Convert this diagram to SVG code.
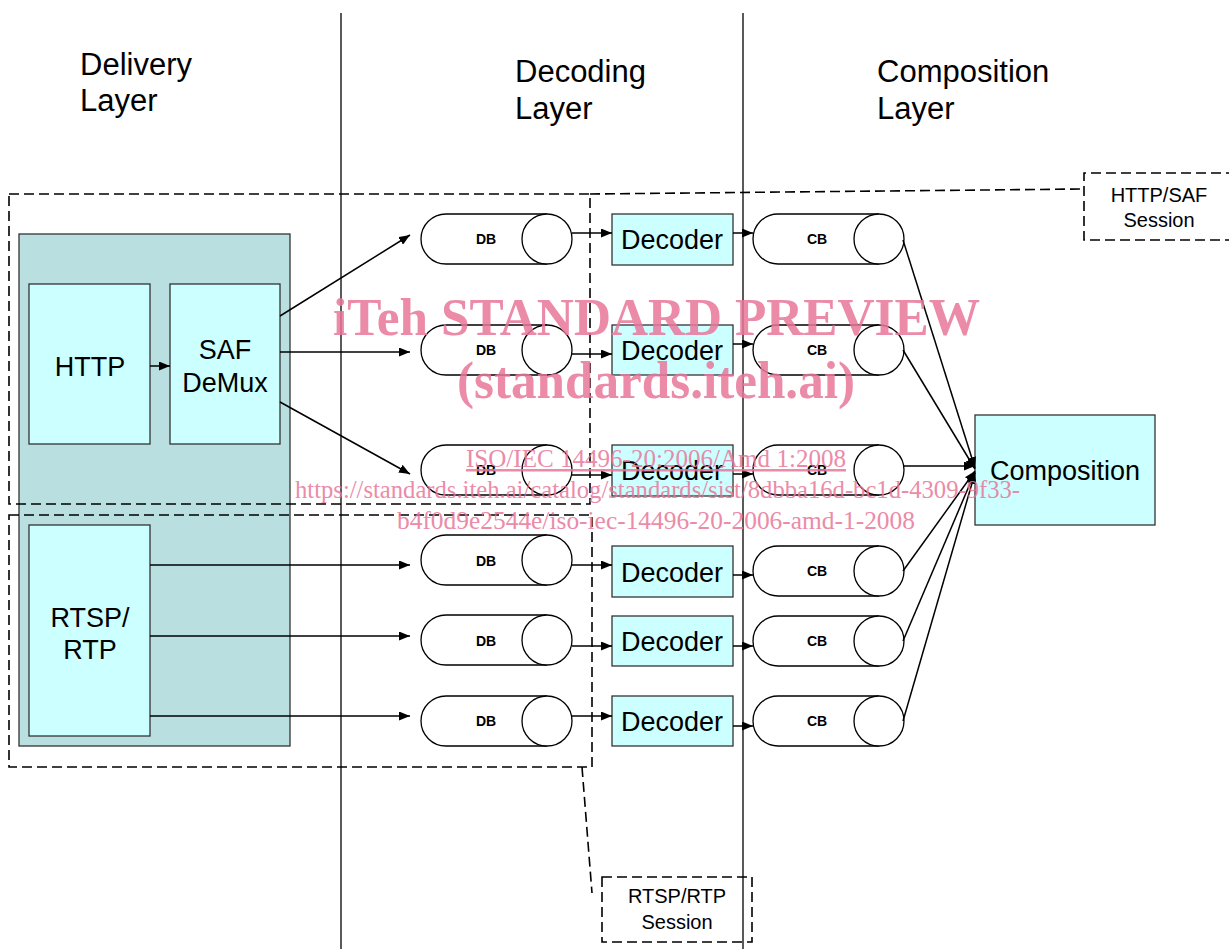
<svg xmlns="http://www.w3.org/2000/svg" xmlns:xlink="http://www.w3.org/1999/xlink" width="1229" height="949" viewBox="0 0 1229 949">
<style>
  .hdr { font-family: "Liberation Sans", Arial, sans-serif; font-size: 31px; fill: #000; }
  .lbl { font-family: "Liberation Sans", Arial, sans-serif; font-size: 27px; fill: #000; text-anchor: middle; }
  .sm { font-family: "Liberation Sans", Arial, sans-serif; font-size: 14px; font-weight: bold; fill: #000; text-anchor: middle; }
  .sess { font-family: "Liberation Sans", Arial, sans-serif; font-size: 20px; fill: #000; text-anchor: middle; }
  .box { fill: #ccffff; stroke: #333; stroke-width: 1.3; }
  .outer { fill: #badfe1; stroke: #333; stroke-width: 1.3; }
  .dash { fill: none; stroke: #000; stroke-width: 1.6; stroke-dasharray: 10 5; }
  .layer { stroke: #000; stroke-width: 1.3; fill: none; }
  .conn line, .conn path { stroke: #000; stroke-width: 1.5; fill: none; }
  .wm { font-family: "Liberation Serif", "Times New Roman", serif; fill: #e8779a; opacity: 0.85; }
</style>
<defs>
  <marker id="ah" markerWidth="11" markerHeight="9" refX="11" refY="4.5" orient="auto" markerUnits="userSpaceOnUse">
    <path d="M0,0 L11,4.5 L0,9 z" fill="#000"/>
  </marker>
  <g id="cyl">
    <path d="M126,0 H25 A25,25 0 0 0 25,50 H126" fill="#fff" stroke="#000" stroke-width="1.3"/>
    <ellipse cx="126" cy="25" rx="25" ry="25" fill="#fff" stroke="#000" stroke-width="1.3"/>
  </g>
</defs>
<rect width="1229" height="949" fill="#fff"/>

<!-- layer separators -->
<g id="layers">
  <line class="layer" x1="341" y1="13" x2="341" y2="949"/>
  <line class="layer" x1="743" y1="13" x2="743" y2="949"/>
  <text class="hdr" x="80" y="75">Delivery</text>
  <text class="hdr" x="80" y="111">Layer</text>
  <text class="hdr" x="515" y="82">Decoding</text>
  <text class="hdr" x="515" y="119">Layer</text>
  <text class="hdr" x="877" y="82">Composition</text>
  <text class="hdr" x="877" y="119">Layer</text>
</g>

<!-- delivery blocks -->
<g id="delivery">
  <rect class="outer" x="19" y="234" width="271" height="512"/>
</g>
<g id="http"><rect class="box" x="29" y="284" width="121" height="160"/><text class="lbl" x="90" y="376">HTTP</text></g>
<g id="safdemux"><rect class="box" x="170" y="284" width="110" height="160"/><text class="lbl" x="225" y="359">SAF</text><text class="lbl" x="225" y="392">DeMux</text></g>
<g id="rtsp"><rect class="box" x="29" y="525" width="121" height="211"/><text class="lbl" x="90" y="627">RTSP/</text><text class="lbl" x="90" y="659">RTP</text></g>

<!-- sessions -->
<g id="http-saf-session">
  <path class="dash" d="M9,194 H590 V504 H9 Z"/>
  <path class="dash" d="M590,194 L1082,189"/>
  <path class="dash" d="M1235,240 H1084 V173 H1235"/>
  <text class="sess" x="1159" y="202">HTTP/SAF</text>
  <text class="sess" x="1159" y="227">Session</text>
</g>
<g id="rtsp-rtp-session">
  <path class="dash" d="M9,515 H592 V767 H9 Z"/>
  <path class="dash" d="M582,767 L592,893"/>
  <rect class="dash" x="602" y="877" width="150" height="65"/>
  <text class="sess" x="677" y="903">RTSP/RTP</text>
  <text class="sess" x="677" y="929">Session</text>
</g>

<!-- DB nodes -->
<g id="db1" transform="translate(421,214)"><use xlink:href="#cyl"/><text class="sm" x="65" y="30">DB</text></g>
<g id="db2" transform="translate(421,325)"><use xlink:href="#cyl"/><text class="sm" x="65" y="30">DB</text></g>
<g id="db3" transform="translate(421,445)"><use xlink:href="#cyl"/><text class="sm" x="65" y="30">DB</text></g>
<g id="db4" transform="translate(421,535)"><use xlink:href="#cyl"/><text class="sm" x="65" y="31">DB</text></g>
<g id="db5" transform="translate(421,615)"><use xlink:href="#cyl"/><text class="sm" x="65" y="31">DB</text></g>
<g id="db6" transform="translate(421,696)"><use xlink:href="#cyl"/><text class="sm" x="65" y="30">DB</text></g>

<!-- Decoder nodes -->
<g id="dec1"><rect class="box" x="612" y="214" width="121" height="51"/><text class="lbl" x="672" y="249">Decoder</text></g>
<g id="dec2"><rect class="box" x="612" y="325" width="121" height="50"/><text class="lbl" x="672" y="360">Decoder</text></g>
<g id="dec3"><rect class="box" x="612" y="445" width="121" height="51"/><text class="lbl" x="672" y="480">Decoder</text></g>
<g id="dec4"><rect class="box" x="612" y="546" width="121" height="51"/><text class="lbl" x="672" y="582">Decoder</text></g>
<g id="dec5"><rect class="box" x="612" y="616" width="121" height="50"/><text class="lbl" x="672" y="651">Decoder</text></g>
<g id="dec6"><rect class="box" x="612" y="696" width="121" height="50"/><text class="lbl" x="672" y="731">Decoder</text></g>

<!-- CB nodes -->
<g id="cb1" transform="translate(753,214)"><use xlink:href="#cyl"/><text class="sm" x="64" y="30">CB</text></g>
<g id="cb2" transform="translate(753,325)"><use xlink:href="#cyl"/><text class="sm" x="64" y="30">CB</text></g>
<g id="cb3" transform="translate(753,445)"><use xlink:href="#cyl"/><text class="sm" x="64" y="30">CB</text></g>
<g id="cb4" transform="translate(753,546)"><use xlink:href="#cyl"/><text class="sm" x="64" y="30">CB</text></g>
<g id="cb5" transform="translate(753,616)"><use xlink:href="#cyl"/><text class="sm" x="64" y="30">CB</text></g>
<g id="cb6" transform="translate(753,696)"><use xlink:href="#cyl"/><text class="sm" x="64" y="30">CB</text></g>

<!-- Composition -->
<g id="composition"><rect class="box" x="975" y="415" width="180" height="110"/><text class="lbl" x="1065" y="480">Composition</text></g>

<!-- connectors -->
<g id="connectors" class="conn">
  <line x1="150" y1="366" x2="170" y2="366" marker-end="url(#ah)"/>
  <line x1="280" y1="316" x2="410" y2="235" marker-end="url(#ah)"/>
  <line x1="280" y1="352" x2="410" y2="352" marker-end="url(#ah)"/>
  <line x1="280" y1="402" x2="410" y2="474" marker-end="url(#ah)"/>
  <line x1="150" y1="565" x2="410" y2="565" marker-end="url(#ah)"/>
  <line x1="150" y1="636" x2="410" y2="636" marker-end="url(#ah)"/>
  <line x1="150" y1="716" x2="410" y2="716" marker-end="url(#ah)"/>

  <line x1="572" y1="233" x2="612" y2="233" marker-end="url(#ah)"/>
  <line x1="572" y1="354" x2="612" y2="354" marker-end="url(#ah)"/>
  <line x1="572" y1="475" x2="612" y2="475" marker-end="url(#ah)"/>
  <line x1="572" y1="565" x2="612" y2="565" marker-end="url(#ah)"/>
  <line x1="572" y1="646" x2="612" y2="646" marker-end="url(#ah)"/>
  <line x1="572" y1="716" x2="612" y2="716" marker-end="url(#ah)"/>

  <line x1="733" y1="233" x2="753" y2="233" marker-end="url(#ah)"/>
  <line x1="733" y1="344" x2="753" y2="344" marker-end="url(#ah)"/>
  <line x1="733" y1="474" x2="753" y2="474" marker-end="url(#ah)"/>
  <line x1="733" y1="575" x2="753" y2="575" marker-end="url(#ah)"/>
  <line x1="733" y1="646" x2="753" y2="646" marker-end="url(#ah)"/>
  <line x1="733" y1="726" x2="753" y2="726" marker-end="url(#ah)"/>

  <line x1="903" y1="240" x2="975" y2="468" marker-end="url(#ah)"/>
  <line x1="903" y1="350" x2="975" y2="469" marker-end="url(#ah)"/>
  <line x1="903" y1="466" x2="975" y2="466" marker-end="url(#ah)"/>
  <line x1="903" y1="571" x2="975" y2="471" marker-end="url(#ah)"/>
  <line x1="903" y1="641" x2="975" y2="472" marker-end="url(#ah)"/>
  <line x1="903" y1="721" x2="975" y2="473" marker-end="url(#ah)"/>
</g>

<!-- watermark -->
<g id="watermark">
  <text class="wm" x="333" y="335" font-size="52" font-weight="bold" textLength="647" lengthAdjust="spacingAndGlyphs">iTeh STANDARD PREVIEW</text>
  <text class="wm" x="457" y="398" font-size="52" font-weight="bold" textLength="398" lengthAdjust="spacingAndGlyphs">(standards.iteh.ai)</text>
  <text class="wm" x="466" y="467" font-size="25" text-decoration="underline" textLength="380" lengthAdjust="spacingAndGlyphs">ISO/IEC 14496-20:2006/Amd 1:2008</text>
  <text class="wm" x="295" y="498" font-size="25" textLength="725" lengthAdjust="spacingAndGlyphs">https://standards.iteh.ai/catalog/standards/sist/8dbba16d-bc1d-4309-9f33-</text>
  <text class="wm" x="397" y="529" font-size="25" textLength="518" lengthAdjust="spacingAndGlyphs">b4f0d9e2544e/iso-iec-14496-20-2006-amd-1-2008</text>
</g>
</svg>
